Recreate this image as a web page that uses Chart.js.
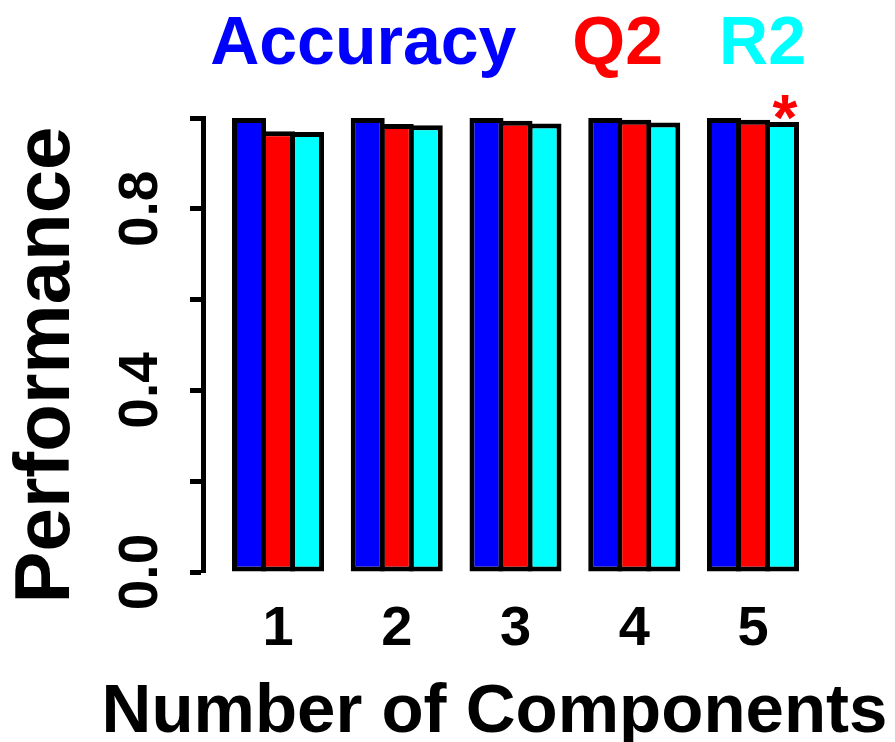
<!DOCTYPE html>
<html>
<head>
<meta charset="utf-8">
<script src="https://cdn.jsdelivr.net/npm/chart.js@4.4.1/dist/chart.umd.min.js"></script>
<style>
  html, body { margin: 0; padding: 0; background: #ffffff; }
  #wrap { width: 895px; height: 742px; }
</style>
</head>
<body>
<div id="wrap"><canvas id="c" width="895" height="742"></canvas></div>
<script>
// Number of components on the x axis
const components = [1, 2, 3, 4, 5];
const componentLabels = ['1', '2', '3', '4', '5'];

// Performance per number of components
const accuracy = [1.000, 1.000, 1.000, 1.000, 1.000];
const q2       = [0.971, 0.987, 0.994, 0.996, 0.996];
const r2       = [0.969, 0.984, 0.988, 0.990, 0.991];

// Component flagged with an asterisk on the R2 bar
const r2Starred = [false, false, false, false, true];

// Y axis ticks and the labels printed beside them
const yTickValues = [0.0, 0.2, 0.4, 0.6, 0.8, 1.0];
const yTickLabels = ['0.0', '', '0.4', '', '0.8', ''];

const seriesNames  = ['Accuracy', 'Q2', 'R2'];
const seriesColors = ['#0000ff', '#ff0000', '#00ffff'];

const xTitle = 'Number of Components';
const yTitle = 'Performance';

const FONT = '"Liberation Sans", Arial, Helvetica, sans-serif';
const LINE = 5;

function toPoints(values) {
  return values.map((v, i) => ({ x: components[i], y: v }));
}

// Red asterisk above flagged R2 bars
const starPlugin = {
  id: 'starMarks',
  afterDatasetsDraw(chart) {
    const meta = chart.getDatasetMeta(2);
    const ctx = chart.ctx;
    ctx.save();
    ctx.fillStyle = '#ff0000';
    ctx.font = 'bold 64px ' + FONT;
    ctx.textAlign = 'center';
    ctx.textBaseline = 'alphabetic';
    const m = ctx.measureText('*');
    meta.data.forEach((bar, i) => {
      if (!r2Starred[i]) return;
      const centre = bar.y - 15;
      const baseline = centre + (m.actualBoundingBoxAscent - m.actualBoundingBoxDescent) / 2;
      ctx.fillText('*', bar.x + 3, baseline);
    });
    ctx.restore();
  }
};

// Axis titles drawn at full size (the built-in titles shrink to the axis length)
const axisTitlePlugin = {
  id: 'axisTitles',
  afterDraw(chart) {
    const { ctx, chartArea } = chart;
    ctx.save();
    ctx.fillStyle = '#000000';
    ctx.textAlign = 'center';
    ctx.textBaseline = 'alphabetic';

    ctx.font = 'bold 69px ' + FONT;
    ctx.fillText(xTitle, (chartArea.left + chartArea.right) / 2 - 12, chart.height - 10);

    ctx.font = 'bold 78px ' + FONT;
    ctx.translate(69, (chartArea.top + chartArea.bottom) / 2 + 20);
    ctx.rotate(-Math.PI / 2);
    ctx.fillText(yTitle, 0, 0);
    ctx.restore();
  }
};

// Neighbouring bars overlap by one border width so shared edges stay single
const datasets = [accuracy, q2, r2].map((vals, k) => ({
  label: seriesNames[k],
  data: toPoints(vals),
  backgroundColor: seriesColors[k],
  borderColor: '#000000',
  borderWidth: LINE,
  borderSkipped: false,
  categoryPercentage: 0.733,
  barPercentage: 1.172
}));

new Chart(document.getElementById('c'), {
  type: 'bar',
  data: { datasets },
  plugins: [starPlugin, axisTitlePlugin],
  options: {
    responsive: false,
    animation: false,
    devicePixelRatio: 1,
    layout: { padding: { top: -22, right: 85, bottom: 0, left: 0 } },
    plugins: {
      tooltip: { enabled: false },
      legend: {
        display: true,
        position: 'top',
        align: 'end',
        fullSize: true,
        labels: {
          boxWidth: 18,
          boxHeight: 126,
          padding: 4,
          font: { family: FONT, size: 68, weight: 'bold' },
          generateLabels(chart) {
            return chart.data.datasets.map((ds, i) => ({
              text: ds.label,
              fillStyle: 'rgba(0,0,0,0)',
              strokeStyle: 'rgba(0,0,0,0)',
              lineWidth: 0,
              fontColor: seriesColors[i],
              hidden: false,
              datasetIndex: i
            }));
          }
        }
      }
    },
    scales: {
      x: {
        type: 'linear',
        offset: false,
        min: 0.3684,
        max: 5.48,
        afterFit(scale) { scale.height = 170; },
        grid: { display: false, drawTicks: false, offset: false },
        border: { display: false },
        afterBuildTicks(scale) {
          scale.ticks = components.map(v => ({ value: v }));
        },
        ticks: {
          padding: 24,
          color: '#000000',
          font: { family: FONT, size: 56, weight: 'bold' },
          callback(value) {
            const i = components.indexOf(value);
            return i >= 0 ? componentLabels[i] : '';
          }
        },
        title: { display: false }
      },
      y: {
        type: 'linear',
        min: 0,
        max: 1,
        afterFit(scale) { scale.width = 203; },
        afterBuildTicks(scale) {
          scale.ticks = yTickValues.map(v => ({ value: v }));
        },
        grid: {
          drawOnChartArea: false,
          drawTicks: true,
          tickLength: 13,
          tickWidth: LINE,
          tickColor: '#000000'
        },
        border: { display: true, color: '#000000', width: LINE },
        ticks: {
          minRotation: 90,
          maxRotation: 90,
          crossAlign: 'center',
          padding: 10,
          color: '#000000',
          font: { family: FONT, size: 55, weight: 'bold' },
          callback(value) {
            const i = yTickValues.findIndex(t => Math.abs(t - value) < 1e-9);
            return i >= 0 ? yTickLabels[i] : '';
          }
        },
        title: { display: false }
      }
    }
  }
});
</script>
</body>
</html>
